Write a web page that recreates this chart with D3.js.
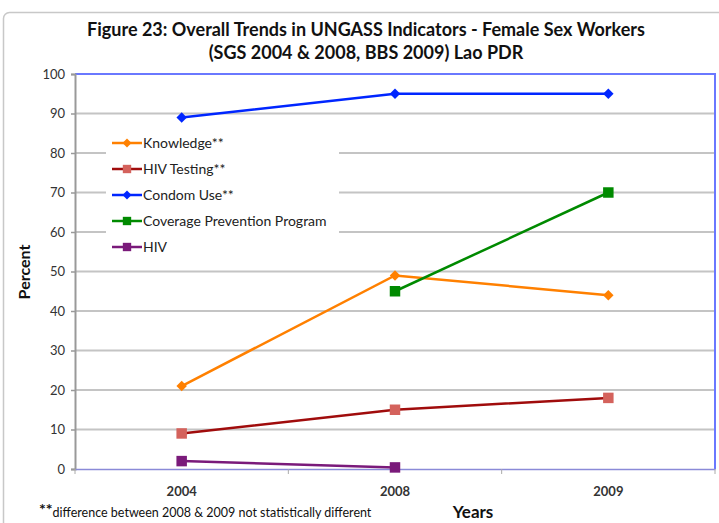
<!DOCTYPE html>
<html lang="en">
  <head>
    <meta charset="UTF-8" />
    <title>UNGASS Indicators - Female Sex Workers</title>
    <script src="https://d3js.org/d3.v7.min.js"></script>
    <style>
      body { margin: 0; background: #fff; }
      text { font-family: Lato, "Open Sans", sans-serif; }
    </style>
  </head>
  <body>
    <svg width="719" height="523"></svg>

    <script>
      // chart data
      var years = ["2004", "2008", "2009"];
      var knowledge = [21, 49, 44];
      var hivTesting = [9, 15, 18];
      var condomUse = [89, 95, 95];
      var coverage = [null, 45, 70];
      var hiv = [2, 0.4, null];
      var yTicks = [0, 10, 20, 30, 40, 50, 60, 70, 80, 90, 100];

      var series = [
        { name: "Knowledge**", values: knowledge, line: "#ff8000", fill: "#ff8000", shape: "diamond" },
        { name: "HIV Testing**", values: hivTesting, line: "#a00c0c", fill: "#d4625c", shape: "square" },
        { name: "Condom Use**", values: condomUse, line: "#0026ff", fill: "#0026ff", shape: "diamond" },
        { name: "Coverage Prevention Program", values: coverage, line: "#008a00", fill: "#008a00", shape: "square" },
        { name: "HIV", values: hiv, line: "#7a1a7a", fill: "#7a1a7a", shape: "square" }
      ];

      var svg = d3.select("svg");

      // outer frame
      svg.append("rect")
        .attr("x", 3.5).attr("y", 12.5)
        .attr("width", 740).attr("height", 540)
        .attr("rx", 6)
        .attr("fill", "none")
        .attr("stroke", "#c8c8c8")
        .attr("stroke-width", 1.5);

      var plotLeft = 75, plotRight = 715, plotTop = 74, plotBottom = 469;

      var x = d3.scaleBand().domain(years).range([plotLeft, plotRight]);
      var y = d3.scaleLinear().domain([0, 100]).range([plotBottom, plotTop]);

      // gridlines
      svg.append("g")
        .selectAll("line")
        .data(yTicks.slice(1, -1))
        .enter()
        .append("line")
        .attr("x1", plotLeft).attr("x2", plotRight)
        .attr("y1", d => y(d)).attr("y2", d => y(d))
        .attr("stroke", "#c4c4c4")
        .attr("stroke-width", 2);

      // plot border (top and right are blue)
      svg.append("path")
        .attr("d", `M${plotLeft},${plotTop}H${plotRight}V${plotBottom}`)
        .attr("fill", "none")
        .attr("stroke", "#6a78ff")
        .attr("stroke-width", 2);

      // y axis
      var yAxis = svg.append("g")
        .attr("transform", `translate(${plotLeft},0)`)
        .call(d3.axisLeft(y).tickValues(yTicks).tickSize(4).tickPadding(6));
      yAxis.select(".domain").attr("stroke", "#999").attr("stroke-width", 2);
      yAxis.selectAll(".tick line").attr("stroke", "#999").attr("stroke-width", 1.5);
      yAxis.selectAll("text").attr("font-size", 13).attr("fill", "#333");

      // x axis
      var xAxis = svg.append("g")
        .attr("transform", `translate(0,${plotBottom})`)
        .call(d3.axisBottom(x).tickSize(0).tickPadding(18));
      xAxis.select(".domain").attr("stroke", "#8a8ad8").attr("stroke-width", 1.5);
      xAxis.selectAll("text").attr("font-size", 13).attr("font-weight", "bold").attr("fill", "#333");
      xAxis.selectAll(".sep")
        .data(d3.range(years.length + 1))
        .enter()
        .append("line")
        .attr("x1", i => plotLeft + x.step() * i)
        .attr("x2", i => plotLeft + x.step() * i)
        .attr("y1", 0).attr("y2", 5)
        .attr("stroke", "#aaa");

      var cx = d => x(d) + x.bandwidth() / 2;

      // diamonds are squares turned 45 degrees
      function marker(s, big) {
        var size = s.shape === "diamond" ? (big ? 55 : 40) : (big ? 110 : 70);
        return d3.symbol().type(d3.symbolSquare).size(size)();
      }
      function turn(s) { return s.shape === "diamond" ? " rotate(45)" : ""; }

      // lines and markers
      series.forEach(function (s) {
        var pts = years.map((yr, i) => ({ yr: yr, v: s.values[i] })).filter(p => p.v !== null);
        var line = d3.line().x(p => cx(p.yr)).y(p => y(p.v));
        svg.append("path")
          .datum(pts)
          .attr("d", line)
          .attr("fill", "none")
          .attr("stroke", s.line)
          .attr("stroke-width", 2.5);
        svg.append("g")
          .selectAll("path")
          .data(pts)
          .enter()
          .append("path")
          .attr("d", marker(s, true))
          .attr("transform", p => `translate(${cx(p.yr)},${y(p.v)})` + turn(s))
          .attr("fill", s.fill);
      });

      // legend
      var legend = svg.append("g");
      legend.append("rect")
        .attr("x", 106).attr("y", 128)
        .attr("width", 233).attr("height", 134)
        .attr("fill", "#fff");
      series.forEach(function (s, i) {
        var ly = 143 + i * 26;
        legend.append("line")
          .attr("x1", 112).attr("x2", 142)
          .attr("y1", ly).attr("y2", ly)
          .attr("stroke", s.line).attr("stroke-width", 2.5);
        legend.append("path")
          .attr("d", marker(s, false))
          .attr("transform", `translate(127,${ly})` + turn(s))
          .attr("fill", s.fill);
        legend.append("text")
          .attr("x", 143).attr("y", ly + 5)
          .attr("font-size", 14)
          .attr("fill", "#222")
          .text(s.name);
      });

      // title
      svg.append("text")
        .attr("x", 366).attr("y", 36)
        .attr("text-anchor", "middle")
        .attr("font-size", 18).attr("font-weight", "bold").attr("fill", "#111")
        .text("Figure 23: Overall Trends in UNGASS Indicators - Female Sex Workers");
      svg.append("text")
        .attr("x", 366).attr("y", 59)
        .attr("text-anchor", "middle")
        .attr("font-size", 18).attr("font-weight", "bold").attr("fill", "#111")
        .text("(SGS 2004 & 2008, BBS 2009) Lao PDR");

      // axis titles
      svg.append("text")
        .attr("transform", "translate(30,272) rotate(-90)")
        .attr("text-anchor", "middle")
        .attr("font-size", 16).attr("font-weight", "bold").attr("fill", "#111")
        .text("Percent");
      svg.append("text")
        .attr("x", 473).attr("y", 518)
        .attr("text-anchor", "middle")
        .attr("font-size", 17).attr("font-weight", "bold").attr("fill", "#111")
        .text("Years");

      // footnote
      var note = svg.append("text").attr("x", 39).attr("y", 517).attr("fill", "#111");
      note.append("tspan").attr("font-size", 16).attr("font-weight", "bold").attr("dy", -2).text("**");
      note.append("tspan").attr("font-size", 12.5).attr("dy", 2).text("difference between 2008 & 2009 not statistically different");
    </script>
  </body>
</html>
